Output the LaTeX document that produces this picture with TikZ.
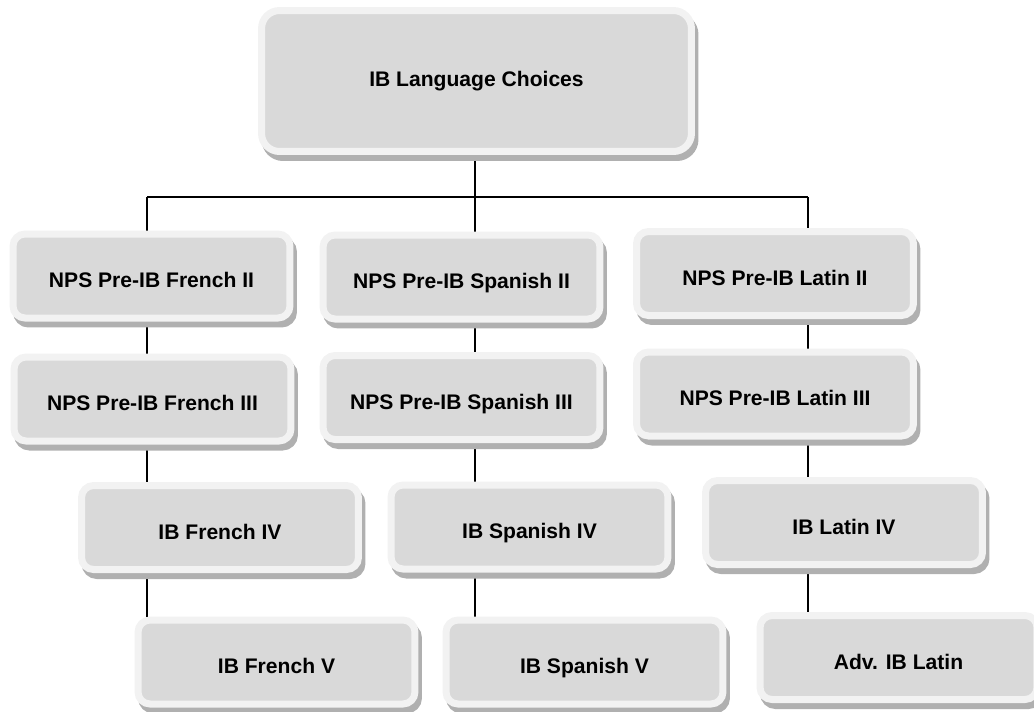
\documentclass[tikz,border=0pt]{standalone}
\usepackage{fontspec}
\setmainfont{Liberation Sans}
\usetikzlibrary{shadows,backgrounds}

\definecolor{rimgray}{HTML}{F2F2F2}
\definecolor{boxgray}{HTML}{D9D9D9}
\definecolor{shadegray}{HTML}{B0B0B0}

\begin{document}
\begin{tikzpicture}[x=0.02cm,y=-0.02cm,
  base_box/.style={rectangle,fill=boxgray,draw=rimgray,line width=0.14cm,font=\fontsize{12}{14}\selectfont\bfseries,
    drop shadow={shadow xshift=0.07cm,shadow yshift=-0.12cm,fill=shadegray,draw=shadegray,line width=0.14cm,opacity=1}},
  lang_box/.style={base_box,rounded corners=0.24cm,minimum width=5.54cm,minimum height=1.68cm,text height=0.46cm,text depth=0pt},
  top_box/.style={base_box,rounded corners=0.36cm,minimum width=8.6cm,minimum height=2.82cm}]

    \useasboundingbox (0,0) rectangle (1034,711);

    \node[top_box] (top) at (476.5,81) {IB Language Choices};

    \node[lang_box] (fr2) at (151.5,276) {NPS Pre-IB French II};
    \node[lang_box] (fr3) at (152.5,399) {NPS Pre-IB French III};
    \node[lang_box] (fr4) at (220,527.5) {IB French IV};
    \node[lang_box] (fr5) at (276.5,662) {IB French V};

    \node[lang_box] (sp2) at (461.5,277) {NPS Pre-IB Spanish II};
    \node[lang_box] (sp3) at (461.5,397.5) {NPS Pre-IB Spanish III};
    \node[lang_box] (sp4) at (529.5,527) {IB Spanish IV};
    \node[lang_box] (sp5) at (584.5,662) {IB Spanish V};

    \node[lang_box] (la2) at (775,273.5) {NPS Pre-IB Latin II};
    \node[lang_box] (la3) at (775,394) {NPS Pre-IB Latin III};
    \node[lang_box] (la4) at (844,522.5) {IB Latin IV};
    \node[lang_box] (la5) at (898.5,657.5) {Adv. IB Latin};

    % column lines
    \coordinate (bus) at (0,197);
    \coordinate (frcol) at (147,0);
    \coordinate (spcol) at (475,0);
    \coordinate (lacol) at (808,0);

  \begin{scope}[on background layer]
  \path[line width=0.8pt]
    (top -| spcol) edge (bus -| spcol)
    (bus -| frcol) edge (bus -| lacol)
    (bus -| frcol) edge (fr2 -| frcol)
    (bus -| spcol) edge (sp2 -| spcol)
    (bus -| lacol) edge (la2 -| lacol)
    (fr2 -| frcol) edge (fr3 -| frcol)
    (fr3 -| frcol) edge (fr4 -| frcol)
    (fr4 -| frcol) edge (fr5 -| frcol)
    (sp2 -| spcol) edge (sp3 -| spcol)
    (sp3 -| spcol) edge (sp4 -| spcol)
    (sp4 -| spcol) edge (sp5 -| spcol)
    (la2 -| lacol) edge (la3 -| lacol)
    (la3 -| lacol) edge (la4 -| lacol)
    (la4 -| lacol) edge (la5 -| lacol);
  \end{scope}
\end{tikzpicture}
\end{document}
